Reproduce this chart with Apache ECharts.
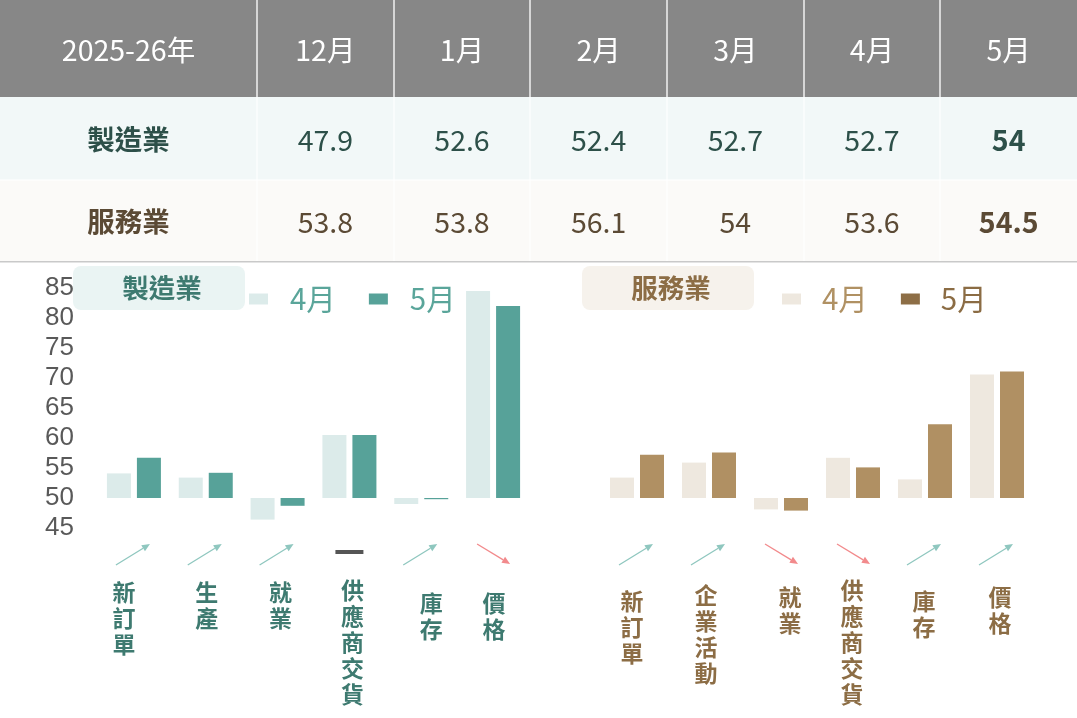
<!DOCTYPE html>
<html>
<head>
<meta charset="utf-8">
<script src="https://cdn.jsdelivr.net/npm/echarts@6/dist/echarts.min.js"></script>
<style>
  html, body { margin: 0; padding: 0; background: #ffffff; }
  #chart { width: 1077px; height: 718px; }
</style>
</head>
<body>
<div id="chart"></div>
<script>
// ---------- data ----------
const tableCorner = '2025-26年';
const months = ['12月', '1月', '2月', '3月', '4月', '5月'];
const sectorNames = ['製造業', '服務業'];
const mfgPMI = [47.9, 52.6, 52.4, 52.7, 52.7, 54];
const svcPMI = [53.8, 53.8, 56.1, 54, 53.6, 54.5];

const legendMonths = ['4月', '5月'];
const mfgCats = ['新訂單', '生產', '就業', '供應商交貨', '庫存', '價格'];
const mfgApr = [54.1, 53.4, 46.4, 60.5, 49.0, 84.5];
const mfgMay = [56.7, 54.2, 48.7, 60.5, 49.8, 82.0];
const svcCats = ['新訂單', '企業活動', '就業', '供應商交貨', '庫存', '價格'];
const svcApr = [53.4, 55.9, 48.1, 56.7, 53.1, 70.6];
const svcMay = [57.2, 57.6, 47.9, 55.1, 62.3, 71.1];
const yTicks = [45, 50, 55, 60, 65, 70, 75, 80, 85];
const baseLine = 50;

// ---------- layout / style (not data) ----------
const W = 1077;
const col0W = 257;
const colW = (W - col0W) / months.length;
const rowTops = [0, 97, 180, 261];
const CJK = '"Noto Sans CJK TC", "Noto Sans CJK SC", sans-serif';
const mfgLabelNudge = [[-10, 2], [1, 2], [3, 2], [3, 0], [10, 13], [1, 13]];
const svcLabelNudge = [[-5, 11], [-3, 5], [9, 7], [-1, 0], [-1, 11], [3, 7]];

const theme = {
  mfg: { light: '#dcebea', dark: '#57a299', text: '#3e7a70', legendText: '#5aa59a', legend5: '#57a299', legend4Text: '#5aa59a', badge: '#eaf4f3', row: '#f2f8f8', rowText: '#2d5049' },
  svc: { light: '#eee8df', dark: '#b09063', text: '#8c6d45', legendText: '#8b6c44', legend5: '#8d6e46', legend4Text: '#b09163', badge: '#f6f2ec', row: '#fbfaf8', rowText: '#5b4a35' }
};

// ---------- table as graphics ----------
const g = [];
g.push({ type: 'rect', shape: { x: 0, y: rowTops[0], width: W, height: rowTops[1] - rowTops[0] }, style: { fill: '#878787' } });
g.push({ type: 'rect', shape: { x: 0, y: rowTops[1], width: W, height: rowTops[2] - rowTops[1] }, style: { fill: theme.mfg.row } });
g.push({ type: 'rect', shape: { x: 0, y: rowTops[2], width: W, height: rowTops[3] - rowTops[2] }, style: { fill: theme.svc.row } });
g.push({ type: 'rect', shape: { x: 0, y: rowTops[3], width: W, height: 1.5 }, style: { fill: '#c9c9c9' } });
for (let i = 0; i < months.length; i++) {
  const x = Math.round(col0W + i * colW);
  g.push({ type: 'rect', shape: { x: x - 1, y: 0, width: 2, height: rowTops[1] }, style: { fill: '#d6d6d6' } });
  g.push({ type: 'rect', shape: { x: x - 0.5, y: rowTops[1], width: 1, height: rowTops[3] - rowTops[1] }, style: { fill: '#ffffff' } });
}
g.push({ type: 'rect', shape: { x: 0, y: rowTops[2] - 0.5, width: W, height: 1 }, style: { fill: '#ffffff' } });

function cellText(x, y, text, color, weight, size) {
  return { type: 'text', style: { x: x, y: y, text: String(text), fill: color, fontSize: size || 28.5, fontFamily: CJK, fontWeight: weight || 'normal', align: 'center', verticalAlign: 'middle' } };
}
g.push(cellText(col0W / 2, 50, tableCorner, '#ffffff'));
months.forEach((m, i) => g.push(cellText(col0W + colW * (i + 0.5), 50, m, '#ffffff')));
const rowData = [mfgPMI, svcPMI];
const rowThemes = [theme.mfg, theme.svc];
const rowCenters = [140, 222];
rowData.forEach((vals, r) => {
  g.push(cellText(col0W / 2, rowCenters[r], sectorNames[r], rowThemes[r].rowText, 'bold', 27.5));
  vals.forEach((v, i) => g.push(cellText(col0W + colW * (i + 0.5), rowCenters[r], v, rowThemes[r].rowText, i === vals.length - 1 ? 'bold' : 'normal')));
});

// sector badges
const badges = [{ x: 73, name: sectorNames[0], t: theme.mfg }, { x: 582, name: sectorNames[1], t: theme.svc }];
badges.forEach(b => {
  g.push({ type: 'rect', shape: { x: b.x, y: 266, width: 172, height: 44, r: 8 }, style: { fill: b.t.badge } });
  g.push({ type: 'text', style: { x: b.x + 89, y: 288, text: b.name, fill: b.t.text, fontSize: 26.5, fontFamily: CJK, fontWeight: 'bold', align: 'center', verticalAlign: 'middle' } });
});

// ---------- helpers ----------
const vertical = s => s.split('').join('\n');
function catData(cats, nudges) {
  return cats.map((c, i) => {
    const dx = nudges[i][0], dy = nudges[i][1];
    return { value: c, textStyle: { padding: [dy, dx < 0 ? -2 * dx : 0, 0, dx > 0 ? 2 * dx : 0] } };
  });
}
function arrowSeries(apr, may, gridIdx) {
  return {
    type: 'custom',
    xAxisIndex: gridIdx, yAxisIndex: gridIdx,
    clip: false, silent: true,
    data: apr.map((v, i) => [i, 0]),
    renderItem: function (params, api) {
      const i = api.value(0);
      const x = api.coord([i, 0])[0];
      const yb = params.coordSys.y + params.coordSys.height;
      const d = may[i] - apr[i];
      if (Math.abs(d) < 0.05) {
        return { type: 'rect', shape: { x: x - 14, y: yb + 22, width: 28, height: 4 }, style: { fill: '#555555' } };
      }
      let x1, y1, x2, y2, col;
      if (d > 0) { x1 = x - 18; y1 = yb + 37; x2 = x + 16; y2 = yb + 16; col = '#8fc7bf'; }
      else { x1 = x - 16; y1 = yb + 16; x2 = x + 17; y2 = yb + 36; col = '#f28a8c'; }
      const ang = Math.atan2(y2 - y1, x2 - x1);
      const L = 8, Wd = 3.5;
      const bx = x2 - L * Math.cos(ang), by = y2 - L * Math.sin(ang);
      const px = -Math.sin(ang) * Wd, py = Math.cos(ang) * Wd;
      return {
        type: 'group',
        children: [
          { type: 'line', shape: { x1: x1, y1: y1, x2: bx, y2: by }, style: { stroke: col, lineWidth: 1.3 } },
          { type: 'polygon', shape: { points: [[x2, y2], [bx + px, by + py], [bx - px, by - py]] }, style: { fill: col } }
        ]
      };
    }
  };
}
const dev = arr => arr.map(v => +(v - baseLine).toFixed(2));

const gridTop = 288, gridH = 240;
const yMin = yTicks[0] - baseLine, yMax = yTicks[yTicks.length - 1] - baseLine;

const option = {
  animation: false,
  backgroundColor: '#ffffff',
  graphic: g,
  legend: [
    {
      left: 249, top: 284, padding: 0, itemWidth: 19, itemHeight: 11, itemGap: 33, icon: 'rect', selectedMode: false,
      formatter: n => n.replace(sectorNames[0], ''),
      textStyle: { fontSize: 29.5, fontFamily: CJK, lineHeight: 30, padding: [0, 0, 0, 17] },
      data: [
        { name: sectorNames[0] + legendMonths[0], itemStyle: { color: theme.mfg.light }, textStyle: { color: theme.mfg.legend4Text } },
        { name: sectorNames[0] + legendMonths[1], itemStyle: { color: theme.mfg.legend5 }, textStyle: { color: theme.mfg.legendText } }
      ]
    },
    {
      left: 782, top: 284, padding: 0, itemWidth: 19, itemHeight: 11, itemGap: 33, icon: 'rect', selectedMode: false,
      formatter: n => n.replace(sectorNames[1], ''),
      textStyle: { fontSize: 29.5, fontFamily: CJK, lineHeight: 30, padding: [0, 0, 0, 16] },
      data: [
        { name: sectorNames[1] + legendMonths[0], itemStyle: { color: theme.svc.light }, textStyle: { color: theme.svc.legend4Text } },
        { name: sectorNames[1] + legendMonths[1], itemStyle: { color: theme.svc.legend5 }, textStyle: { color: theme.svc.legendText } }
      ]
    }
  ],
  grid: [
    { left: 98, top: gridTop, width: 431, height: gridH },
    { left: 601, top: gridTop, width: 432, height: gridH }
  ],
  xAxis: [
    { type: 'category', gridIndex: 0, data: catData(mfgCats, mfgLabelNudge), axisLine: { show: false, onZero: false }, axisTick: { show: false },
      axisLabel: { interval: 0, margin: 49, formatter: vertical, fontSize: 23, lineHeight: 26, fontWeight: 'bold', fontFamily: CJK, color: theme.mfg.text, verticalAlign: 'top' } },
    { type: 'category', gridIndex: 1, data: catData(svcCats, svcLabelNudge), axisLine: { show: false, onZero: false }, axisTick: { show: false },
      axisLabel: { interval: 0, margin: 49, formatter: vertical, fontSize: 23, lineHeight: 26, fontWeight: 'bold', fontFamily: CJK, color: theme.svc.text, verticalAlign: 'top' } }
  ],
  yAxis: [
    { type: 'value', gridIndex: 0, min: yMin, max: yMax, interval: 5, splitLine: { show: false }, axisLine: { show: false }, axisTick: { show: false },
      axisLabel: { formatter: v => String(v + baseLine), fontSize: 26, fontFamily: '"Liberation Sans", Arial, sans-serif', color: '#595959', margin: 24 } },
    { type: 'value', gridIndex: 1, min: yMin, max: yMax, interval: 5, show: false, splitLine: { show: false } }
  ],
  series: [
    { name: sectorNames[0] + legendMonths[0], type: 'bar', xAxisIndex: 0, yAxisIndex: 0, data: dev(mfgApr), barWidth: 24, barGap: '25%', itemStyle: { color: theme.mfg.light }, silent: true },
    { name: sectorNames[0] + legendMonths[1], type: 'bar', xAxisIndex: 0, yAxisIndex: 0, data: dev(mfgMay), barWidth: 24, barGap: '25%', itemStyle: { color: theme.mfg.dark }, silent: true },
    { name: sectorNames[1] + legendMonths[0], type: 'bar', xAxisIndex: 1, yAxisIndex: 1, data: dev(svcApr), barWidth: 24, barGap: '25%', itemStyle: { color: theme.svc.light }, silent: true },
    { name: sectorNames[1] + legendMonths[1], type: 'bar', xAxisIndex: 1, yAxisIndex: 1, data: dev(svcMay), barWidth: 24, barGap: '25%', itemStyle: { color: theme.svc.dark }, silent: true },
    arrowSeries(mfgApr, mfgMay, 0),
    arrowSeries(svcApr, svcMay, 1)
  ]
};

const chart = echarts.init(document.getElementById('chart'), null, { renderer: 'canvas' });
chart.setOption(option);
</script>
</body>
</html>
